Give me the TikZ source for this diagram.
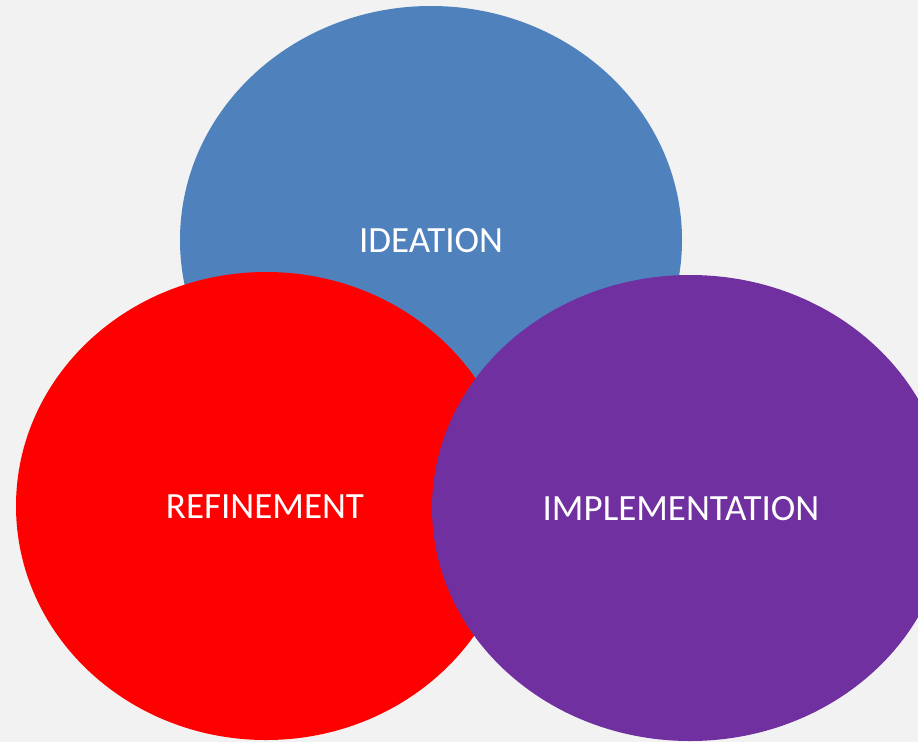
\documentclass[tikz,border=0pt]{standalone}
\usepackage{fontspec}
\setmainfont{Carlito}
\definecolor{bgc}{HTML}{F2F2F2}
\definecolor{bluec}{HTML}{4F81BD}
\definecolor{redc}{HTML}{FF0000}
\definecolor{purplec}{HTML}{7030A0}
\tikzset{
  lbl/.style={text=white, font=\fontsize{37}{42}\selectfont, inner sep=0pt, anchor=center},
}
\begin{document}
\begin{tikzpicture}[x=1pt,y=-1pt]
\useasboundingbox (0,0) rectangle (918,742);
\clip (0,0) rectangle (918,742);
\fill[bgc] (0,0) rectangle (918,742);
\fill[bluec] (431,240) ellipse [x radius=251pt, y radius=234pt];
\fill[redc] (266,506) ellipse [x radius=250pt, y radius=234pt];
\fill[purplec] (690,508) ellipse [x radius=258pt, y radius=233pt];
\node[lbl] (ideation) at (431,241) {IDEATION};
\node[lbl] (refinement) at (265,507) {REFINEMENT};
\node[lbl] (implementation) at (681,509) {IMPLEMENTATION};
\end{tikzpicture}
\end{document}
